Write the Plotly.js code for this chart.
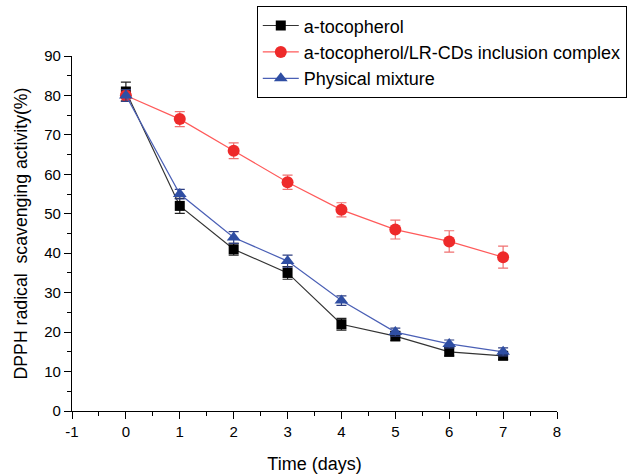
<!DOCTYPE html>
<html><head><meta charset="utf-8">
<script src="https://cdn.plot.ly/plotly-3.0.1.min.js"></script>
<style>body{margin:0;background:#fff}#c{width:630px;height:474px}</style>
</head><body><div id="c"></div>
<script>
const days = [0,1,2,3,4,5,6,7];
const seriesNames = ["a-tocopherol","a-tocopherol/LR-CDs inclusion complex","Physical mixture"];
const xTickVals = [-1,0,1,2,3,4,5,6,7,8];
const xTickText = ["-1","0","1","2","3","4","5","6","7","8"];
const tocoVals = [81,52,41,35,22,19,15,14];
const tocoErr = [2.4,1.9,1.5,1.6,1.5,1.2,1.0,1.0];
const complexVals = [80,74,66,58,51,46,43,39];
const complexErr = [1.5,1.9,2.0,1.8,1.8,2.4,2.7,2.8];
const mixVals = [80,55,44,38,28,20,17,15];
const mixErr = [1.5,1.2,1.5,1.5,1.2,1.0,1.0,1.0];

const traces = [
  {x:days,y:tocoVals,name:seriesNames[0],mode:'lines+markers',type:'scatter',
   line:{color:'#333333',width:1.2},marker:{symbol:'square',size:10,color:'#000000'},
   error_y:{type:'data',array:tocoErr,visible:true,color:'#222222',thickness:1.2,width:5}},
  {x:days,y:complexVals,name:seriesNames[1],mode:'lines+markers',type:'scatter',
   line:{color:'#ff5a5a',width:1.2},marker:{symbol:'circle',size:12,color:'#ee2a2a'},
   error_y:{type:'data',array:complexErr,visible:true,color:'#f07070',thickness:1.2,width:5}},
  {x:days,y:mixVals,name:seriesNames[2],mode:'lines+markers',type:'scatter',
   line:{color:'#4a5fb5',width:1.2},marker:{symbol:'triangle-up',size:12,color:'#2f4ea3'},
   error_y:{type:'data',array:mixErr,visible:true,color:'#2f3f80',thickness:1.2,width:5}}
];

const layout = {
  width:630,height:474,
  margin:{l:72,r:73,t:56,b:63,autoexpand:false},
  paper_bgcolor:'#fff',plot_bgcolor:'#fff',
  font:{family:'Liberation Sans, Arial, sans-serif',size:15,color:'#000'},
  showlegend:true,
  legend:{x:0.381,y:1.14,xanchor:'left',yanchor:'top',bordercolor:'#000',borderwidth:1,
    bgcolor:'#fff',font:{size:18},tracegroupgap:0,itemwidth:36},
  xaxis:{range:[-1,8],tickvals:xTickVals,ticktext:xTickText,showgrid:false,zeroline:false,
    showline:true,linecolor:'#000',linewidth:1.2,ticks:'outside',ticklen:7,tickcolor:'#000',
    tickfont:{size:15},
    minor:{ticks:'outside',dtick:0.5,ticklen:4,tickcolor:'#000',showgrid:false},
    title:{text:'Time (days)',font:{size:18},standoff:22},automargin:false},
  yaxis:{range:[0,90],dtick:10,showgrid:false,zeroline:false,
    showline:true,linecolor:'#000',linewidth:1.2,ticks:'outside',ticklen:7,tickcolor:'#000',
    tickfont:{size:15},
    minor:{ticks:'outside',dtick:5,ticklen:4,tickcolor:'#000',showgrid:false},
    title:{text:'DPPH radical\u00a0 scavenging activity(%)',font:{size:17.7},standoff:12},automargin:false}
};
Plotly.newPlot('c',traces,layout,{displayModeBar:false});
</script></body></html>
